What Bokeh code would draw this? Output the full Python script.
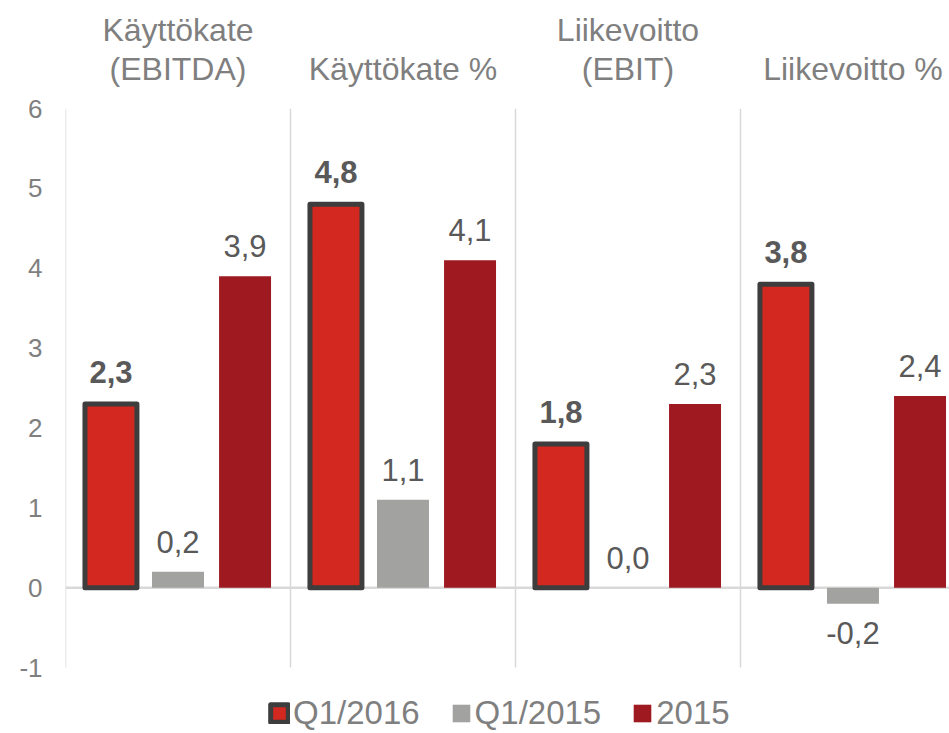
from bokeh.plotting import figure
from bokeh.models import (Range1d, FixedTicker, LinearAxis, Legend, LegendItem,
                          Span, ColumnDataSource)
from bokeh.core.properties import value
from bokeh.embed import file_html
from bokeh.resources import INLINE

# ---- data ----
categories = ["Käyttökate\n(EBITDA)", "Käyttökate %", "Liikevoitto\n(EBIT)", "Liikevoitto %"]
series_names = ["Q1/2016", "Q1/2015", "2015"]
q1_2016 = [2.3, 4.8, 1.8, 3.8]
q1_2015 = [0.2, 1.1, 0.0, -0.2]
y2015 = [3.9, 4.1, 2.3, 2.4]
y_ticks = [-1, 0, 1, 2, 3, 4, 5, 6]

FONT = "Liberation Sans"
RED = "#d2281f"
DARKRED = "#9e1a20"
GREY = "#a2a3a1"
BORDER = "#3d3d3d"
SEP = "#d9d9d9"

W, H = 949, 733
p = figure(width=W, height=H, output_backend="svg", toolbar_location=None,
           x_range=Range1d(-0.5, 3.429), y_range=Range1d(-1.826, 6),
           x_axis_location=None, min_border_left=65, min_border_right=0,
           min_border_top=108, min_border_bottom=0)
p.outline_line_color = None
p.xgrid.visible = False
p.ygrid.visible = False
p.background_fill_color = "white"
p.border_fill_color = "white"

# y axis
ya = p.yaxis[0]
ya.ticker = FixedTicker(ticks=y_ticks)
ya.major_label_overrides = {t: str(t) for t in y_ticks}
ya.axis_line_color = None
ya.major_tick_line_color = None
ya.minor_tick_line_color = None
ya.major_tick_out = 0
ya.major_tick_in = 0
ya.major_label_standoff = 23
ya.major_label_text_font = FONT
ya.major_label_text_font_size = "26px"
ya.major_label_text_color = "#7f7f7f"

# category axis on top
idx = list(range(len(categories)))
top = LinearAxis(ticker=FixedTicker(ticks=idx),
                 major_label_overrides={i: categories[i] for i in idx})
top.axis_line_color = None
top.major_tick_line_color = None
top.minor_tick_line_color = None
top.major_tick_out = 0
top.major_tick_in = 0
top.major_label_standoff = 22
top.major_label_text_font = FONT
top.major_label_text_font_size = "32px"
top.major_label_text_line_height = 1.07
top.major_label_text_color = "#7f7f7f"
p.add_layout(top, "above")

# separators
bounds = [i - 0.5 for i in idx]
p.segment(x0=bounds, x1=bounds, y0=[min(y_ticks)] * len(bounds),
          y1=[max(y_ticks)] * len(bounds), line_color=SEP, line_width=1.5)
p.add_layout(Span(location=0, dimension="width", line_color=SEP, line_width=2.5,
                  level="underlay"))

BW = 0.231
OFF = 0.298

def fmt(v):
    return f"{v:.1f}".replace(".", ",")

series = [
    (q1_2016, -OFF, dict(fill_color=RED, line_color=BORDER, line_width=5, line_join="round"), "bold"),
    (q1_2015, 0.0, dict(fill_color=GREY, line_color=None), "normal"),
    (y2015, OFF, dict(fill_color=DARKRED, line_color=None), "normal"),
]

renderers = []
for vals, off, style, weight in series:
    xs = [i + off for i in idx]
    src = ColumnDataSource(dict(x=xs, top=vals,
                                label=[fmt(v) for v in vals],
                                yoff=[(-32 if weight == "bold" else -30) if v >= 0 else 29 for v in vals]))
    r = p.vbar(x="x", top="top", bottom=0, width=BW, source=src, **style)
    renderers.append(r)
    p.text(x="x", y="top", text="label", y_offset="yoff", source=src,
           text_align="center", text_baseline="alphabetic",
           text_font=value(FONT), text_font_size="31px",
           text_font_style=weight, text_color="#595959")

legend = Legend(items=[LegendItem(label=n, renderers=[r]) for n, r in zip(series_names, renderers)],
                orientation="horizontal", location=(203, 1),
                label_text_font=FONT, label_text_font_size="33px",
                label_text_color="#7f7f7f", glyph_width=22, glyph_height=22,
                label_standoff=3, spacing=30, padding=0, margin=0,
                background_fill_alpha=0, border_line_color=None)
p.add_layout(legend)

open("out.html", "w").write(file_html(p, INLINE))
